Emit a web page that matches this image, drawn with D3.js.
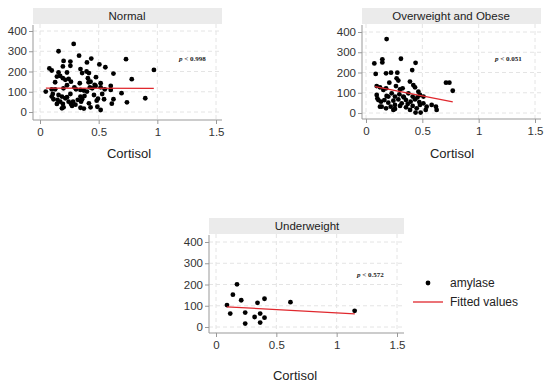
<!DOCTYPE html>
<html>
<head>
<meta charset="utf-8">
<script src="https://cdn.jsdelivr.net/npm/d3@7"></script>
<style>
  body { margin: 0; background: #fff; }
  svg { font-family: "Liberation Sans", Arial, sans-serif; }
  .tick text { fill: #333; font-size: 11.5px; }
  .tick line { stroke: #999; }
  .grid line { stroke: #e4e4e4; stroke-dasharray: 4,3; }
</style>
</head>
<body>
<svg width="550" height="387"></svg>
<script>
// data
var xTicks = [0, 0.5, 1, 1.5];
var yTicks = [0, 100, 200, 300, 400];
var panelTitles = ["Normal", "Overweight and Obese", "Underweight"];
var pValues = ["0.998", "0.051", "0.572"];
var xLabel = "Cortisol";
var legendLabels = ["amylase", "Fitted values"];

var normalX = [0.287,0.158,0.333,0.437,0.40,0.733,0.201,0.259,0.506,0.557,0.971,0.08,0.10,0.195,0.259,0.345,0.397,0.417,0.626,0.144,
  0.172,0.23,0.244,0.359,0.408,0.477,0.517,0.782,0.129,0.216,0.264,0.339,0.414,0.425,0.466,0.603,0.603,0.049,0.10,0.20,
  0.307,0.374,0.40,0.552,0.695,0.109,0.158,0.187,0.259,0.345,0.379,0.46,0.53,0.897,0.115,0.149,0.216,0.244,0.322,0.359,
  0.417,0.483,0.494,0.626,0.741,0.144,0.195,0.264,0.282,0.302,0.35,0.546,0.612,0.201,0.187,0.345,0.374,0.431,0.489,0.517,
  0.273,0.172,0.23,0.10,0.129,0.431,0.445,0.23,0.293,0.345,0.195,0.158,0.474,0.517];
var normalY = [336,300,278,264,245,261,252,249,235,221,208,215,205,225,228,212,200,192,190,175,
  178,195,164,192,167,172,142,162,147,159,150,142,147,122,134,129,109,101,112,117,
  112,106,101,112,93,89,84,76,89,76,79,84,89,68,63,60,68,51,60,63,
  43,56,66,63,48,40,40,40,51,36,51,63,41,23,18,21,17,23,26,10,
  30,51,73,76,112,150,117,132,122,109,167,195,129,122];

var overX = [0.183,0.074,0.086,0.145,0.145,0.31,0.44,0.41,0.178,0.222,0.278,0.207,0.272,0.287,0.39,0.42,0.435,0.71,0.74,0.77,
  0.095,0.124,0.178,0.266,0.325,0.095,0.101,0.183,0.228,0.257,0.296,0.337,0.376,0.414,0.456,0.479,0.133,0.163,0.198,0.243,
  0.287,0.317,0.355,0.396,0.435,0.473,0.509,0.139,0.178,0.219,0.257,0.302,0.355,0.391,0.45,0.479,0.53,0.583,0.621,0.627,
  0.44,0.485,0.538,0.124,0.243,0.257,0.331,0.37,0.414,0.198,0.11,0.302,0.154,0.465,0.51];
var overY = [365,245,193,265,250,268,248,212,196,199,199,150,171,160,155,138,127,150,150,110,
  133,127,122,133,122,89,72,84,97,81,92,77,97,81,77,89,56,64,51,61,
  67,48,64,56,67,54,48,31,23,31,20,35,28,15,23,40,15,40,31,15,
  2,2,31,31,15,40,81,44,35,81,64,117,114,105,81];

var underX = [0.091,0.118,0.14,0.174,0.209,0.242,0.242,0.32,0.344,0.366,0.366,0.402,0.402,0.617,1.149];
var underY = [103,63,152,201,126,68,16,47,114,63,21,133,44,117,76];

// fitted line end points [x, y]
var normalFit = [[0.05, 118], [0.97, 117]];
var overFit = [[0.08, 130], [0.77, 55]];
var underFit = [[0.09, 95], [1.15, 62]];

var svg = d3.select("svg");

// layout of each panel, in pixels
var panels = [
  { xs: normalX, ys: normalY, fit: normalFit, left: 33, right: 222, top: 8, strip: 16, axisY: 120,
    xr: [40, 216], yr: [112, 31], titleX: 127, pX: 179, pY: 61, labelX: 129, labelY: 158 },
  { xs: overX, ys: overY, fit: overFit, left: 362, right: 541, top: 8, strip: 16, axisY: 119,
    xr: [366, 535], yr: [113, 32], titleX: 451, pX: 495, pY: 61, labelX: 452, labelY: 158 },
  { xs: underX, ys: underY, fit: underFit, left: 209, right: 404, top: 218, strip: 16, axisY: 333,
    xr: [216, 397], yr: [327, 242], titleX: 307, pX: 357, pY: 277, labelX: 295, labelY: 380 }
];

panels.forEach(function(p, i) {
  var x = d3.scaleLinear().domain([0, 1.5]).range(p.xr);
  var y = d3.scaleLinear().domain([0, 400]).range(p.yr);
  var g = svg.append("g");
  var plotTop = p.top + p.strip;

  // header strip
  g.append("rect")
    .attr("x", p.left).attr("y", p.top)
    .attr("width", p.right - p.left).attr("height", p.strip)
    .attr("fill", "#ebebeb");
  g.append("text")
    .attr("x", p.titleX).attr("y", p.top + 12)
    .attr("text-anchor", "middle")
    .attr("font-size", "11.5px").attr("fill", "#222")
    .text(panelTitles[i]);

  // grid
  var grid = g.append("g").attr("class", "grid");
  grid.selectAll(".gy").data(yTicks).enter().append("line")
    .attr("x1", p.left).attr("x2", p.right)
    .attr("y1", d => y(d)).attr("y2", d => y(d));
  grid.selectAll(".gx").data(xTicks).enter().append("line")
    .attr("x1", d => x(d)).attr("x2", d => x(d))
    .attr("y1", plotTop).attr("y2", p.axisY);

  // axes
  var ay = g.append("g").attr("transform", "translate(" + p.left + ",0)")
    .call(d3.axisLeft(y).tickValues(yTicks).tickSize(4).tickPadding(2));
  ay.select(".domain").remove();
  var ax = g.append("g").attr("transform", "translate(0," + p.axisY + ")")
    .call(d3.axisBottom(x).tickValues(xTicks).tickSize(4).tickPadding(4)
      .tickFormat(d3.format("")));
  ax.select(".domain").remove();
  g.append("line").attr("x1", p.left).attr("x2", p.left)
    .attr("y1", plotTop + 1).attr("y2", p.axisY).attr("stroke", "#999");
  g.append("line").attr("x1", p.left).attr("x2", p.right)
    .attr("y1", p.axisY).attr("y2", p.axisY).attr("stroke", "#999");

  // points
  g.selectAll("circle").data(p.xs).enter().append("circle")
    .attr("cx", d => x(d))
    .attr("cy", (d, j) => y(p.ys[j]))
    .attr("r", 2.4)
    .attr("fill", "#000");

  // fitted line
  g.append("path")
    .attr("d", d3.line().x(d => x(d[0])).y(d => y(d[1]))(p.fit))
    .attr("stroke", "#e0282e").attr("stroke-width", 1.3).attr("fill", "none");

  // p value
  var pt = g.append("text")
    .attr("x", p.pX).attr("y", p.pY)
    .attr("font-family", "'Liberation Serif', 'Times New Roman', serif")
    .attr("font-size", "7px").attr("font-weight", "bold").attr("fill", "#222");
  pt.append("tspan").attr("font-style", "italic").text("p");
  pt.append("tspan").text(" < " + pValues[i]);

  // x label
  g.append("text")
    .attr("x", p.labelX).attr("y", p.labelY)
    .attr("text-anchor", "middle")
    .attr("font-size", "13px").attr("fill", "#222")
    .text(xLabel);
});

// legend
var lg = svg.append("g");
lg.append("circle").attr("cx", 428).attr("cy", 283).attr("r", 2.4).attr("fill", "#000");
lg.append("line").attr("x1", 413).attr("x2", 443).attr("y1", 302).attr("y2", 302)
  .attr("stroke", "#e0282e").attr("stroke-width", 1.3);
lg.selectAll("text").data(legendLabels).enter().append("text")
  .attr("x", 450).attr("y", (d, i) => 287 + i * 19)
  .attr("font-size", "12px").attr("fill", "#222")
  .text(d => d);
</script>
</body>
</html>
